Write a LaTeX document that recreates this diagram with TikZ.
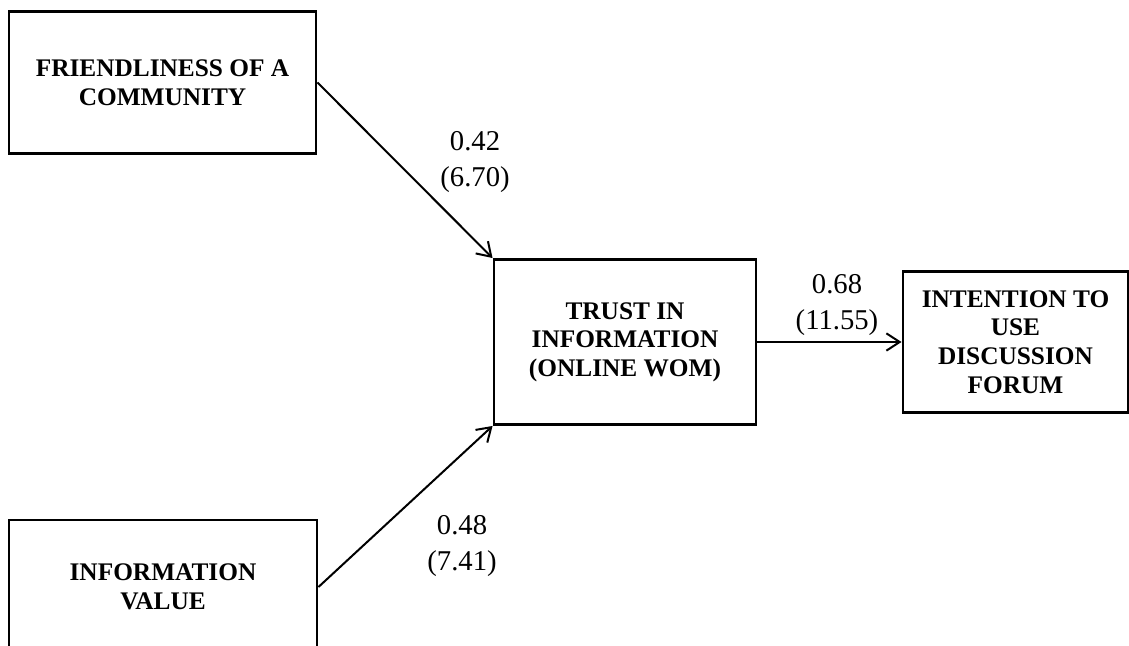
\documentclass[tikz,border=0pt]{standalone}
\usepackage{fontspec}
\setmainfont{Liberation Serif}
\usetikzlibrary{arrows.meta}
\tikzset{
  construct/.style={draw,line width=2.2pt,rectangle,align=center,
    font=\fontsize{19}{21.5}\selectfont\bfseries,inner sep=0pt},
  coef/.style={align=center,font=\fontsize{21.5}{27}\selectfont,inner sep=0pt}
}
\begin{document}
\begin{tikzpicture}[x=0.75pt,y=-0.75pt]
      \useasboundingbox (0,0) rectangle (1129,646);
      \draw
        (162.5,82.5) node[construct,minimum width=230.25pt,minimum height=106.5pt] (friend){FRIENDLINESS OF A\\COMMUNITY}
        (163,587) node[construct,minimum width=231pt,minimum height=100.5pt] (infoval){INFORMATION\\VALUE}
        (625,342) node[construct,minimum width=196.5pt,minimum height=123.75pt] (trust){TRUST IN\\INFORMATION\\(ONLINE WOM)}
        (1015.5,342) node[construct,minimum width=168.75pt,minimum height=105.75pt] (intent){INTENTION TO\\USE\\DISCUSSION\\FORUM};
      \draw
        (475,162.5) node[coef] (c1){0.42\\(6.70)}
        (462,546) node[coef] (c2){0.48\\(7.41)}
        (837,305) node[coef] (c3){0.68\\(11.55)};
      \begin{scope}[-{Straight Barb[length=10pt,width=13pt]},line width=1.5pt]
        \draw (friend.east) to (trust.north west);
        \draw (infoval.east) to (trust.south west);
        \draw (trust.east) to (intent.west);
      \end{scope}
    \end{tikzpicture}
\end{document}
